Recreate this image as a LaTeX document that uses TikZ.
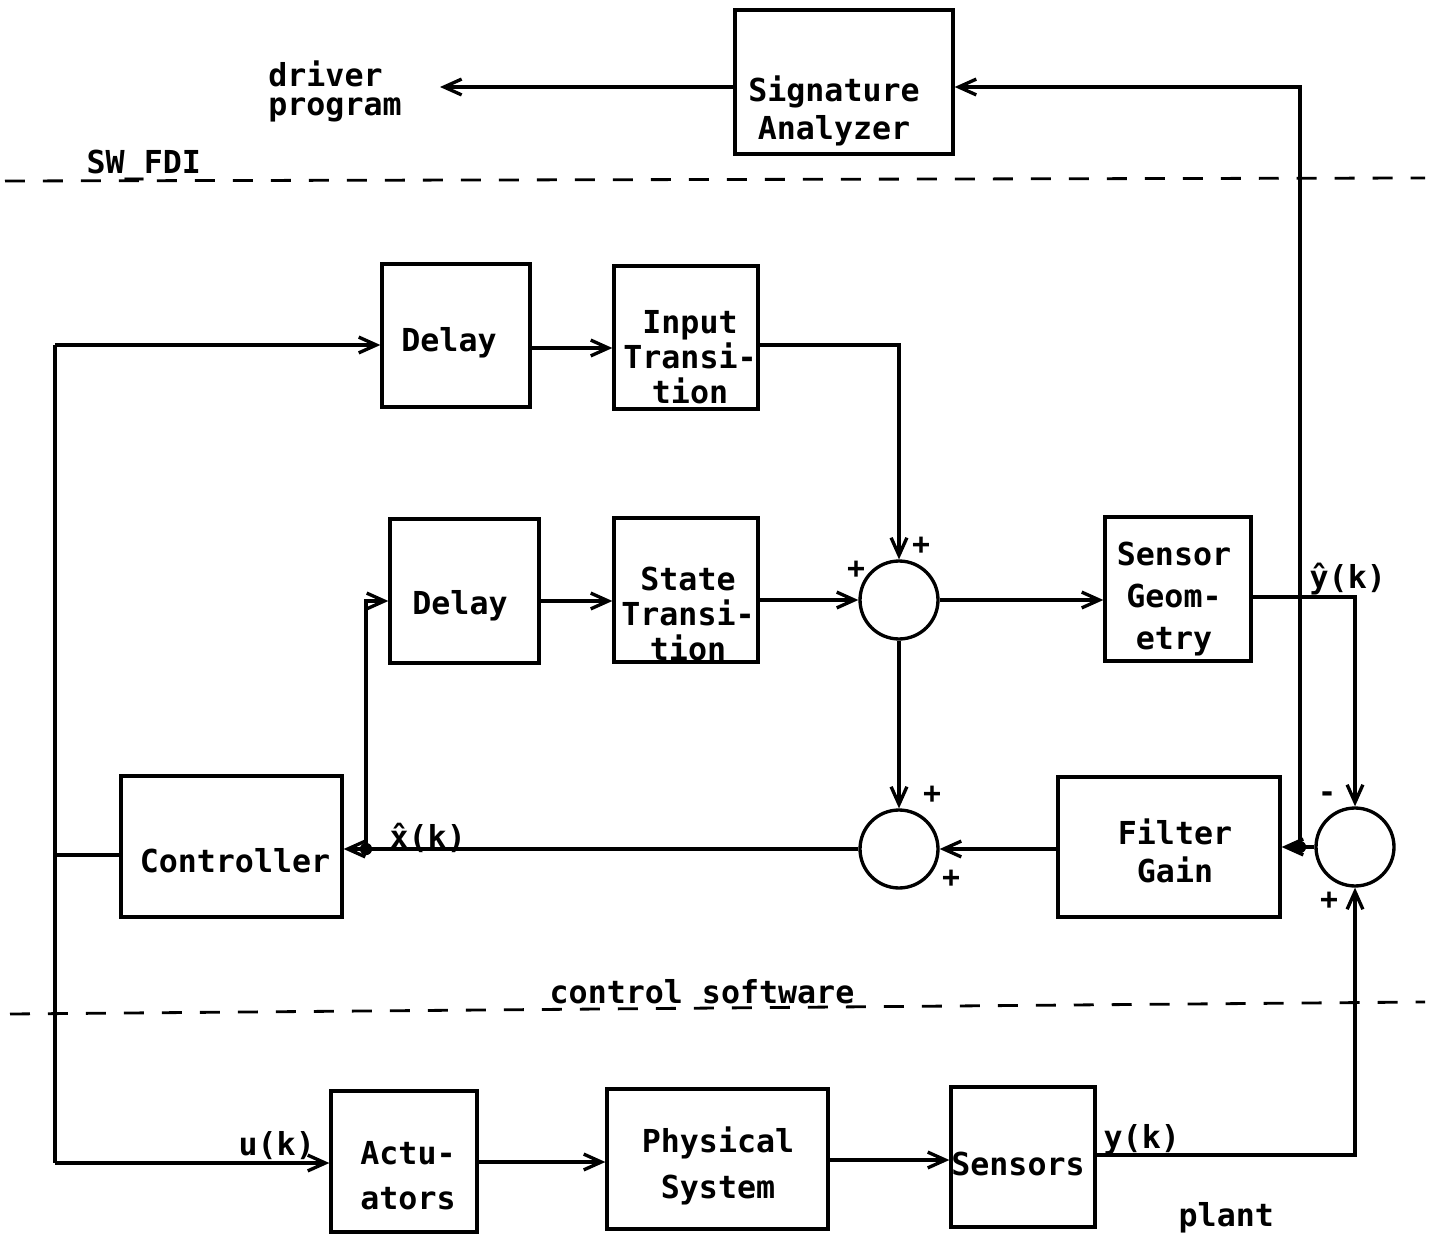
\documentclass[tikz,border=0pt]{standalone}
\usepackage{fontspec}
\newfontfamily\labfont{DejaVu Sans Mono}
\usetikzlibrary{arrows.meta}
\begin{document}
\begin{tikzpicture}[x=0.02cm,y=-0.02cm,line width=1.9pt,
  >={Straight Barb[length=10pt,width=9pt]},
  blk/.style={draw,inner sep=0pt},
  sumc/.style={draw,circle,minimum size=1.56cm,inner sep=0pt},
  lab/.style={font=\labfont\bfseries\fontsize{18}{20}\selectfont,align=center,inner sep=0pt},
  sgn/.style={font=\labfont\bfseries\fontsize{17}{18}\selectfont,inner sep=0pt},
  sep/.style={line width=1.6pt,dash pattern=on 0.4cm off 0.36cm},
  dot/.style={fill,circle,inner sep=0pt,minimum size=7pt}]
\fill[white] (0,0) rectangle (1430,1236);
\useasboundingbox (0,0) rectangle (1430,1236);

% level helpers
\coordinate (L87) at (0,87);
\coordinate (L345) at (0,345);
\coordinate (L348) at (0,348);
\coordinate (L597) at (0,597);
\coordinate (L601) at (0,601);
\coordinate (L1155) at (0,1155);
\coordinate (L1160) at (0,1160);
\coordinate (L1162) at (0,1162);

% boxes
\node[blk,minimum width=4.36cm,minimum height=2.88cm] (sig) at (844,82) {};
\node[blk,minimum width=2.96cm,minimum height=2.86cm] (d1) at (456,335.5) {};
\node[blk,minimum width=2.88cm,minimum height=2.86cm] (ita) at (686,337.5) {};
\node[blk,minimum width=2.98cm,minimum height=2.88cm] (d2) at (464.5,591) {};
\node[blk,minimum width=2.88cm,minimum height=2.88cm] (st) at (686,590) {};
\node[blk,minimum width=2.92cm,minimum height=2.88cm] (sg) at (1178,589) {};
\node[blk,minimum width=4.44cm,minimum height=2.80cm] (fg) at (1169,847) {};
\node[blk,minimum width=4.42cm,minimum height=2.82cm] (ctl) at (231.5,846.5) {};
\node[blk,minimum width=2.92cm,minimum height=2.82cm] (act) at (404,1161.5) {};
\node[blk,minimum width=4.42cm,minimum height=2.80cm] (phys) at (717.5,1159) {};
\node[blk,minimum width=2.88cm,minimum height=2.80cm] (sens) at (1023,1157) {};

% summing junctions
\node[sumc] (s1) at (899,600) {};
\node[sumc] (s2) at (899,849) {};
\node[sumc] (s3) at (1355,847) {};

% box texts
\node[lab,font=\labfont\bfseries\fontsize{18}{21.5}\selectfont] (sigT) at (834,111) {Signature\\Analyzer};
\node[lab,anchor=base] (d1T) at (449,352) {Delay};
\node[lab,font=\labfont\bfseries\fontsize{18}{19.8}\selectfont] (itaT) at (690,357) {Input\\Transi-\\tion};
\node[lab,anchor=base] (d2T) at (460,614) {Delay};
\node[lab,font=\labfont\bfseries\fontsize{18}{19.8}\selectfont] (stT) at (688,614) {State\\Transi-\\tion};
\node[lab,font=\labfont\bfseries\fontsize{18}{24}\selectfont] (sgT) at (1174,599) {Sensor\\Geom-\\etry};
\node[lab,font=\labfont\bfseries\fontsize{18}{21.5}\selectfont] (fgT) at (1175,851) {Filter\\Gain};
\node[lab,anchor=base] (ctlT) at (235,872) {Controller};
\node[lab,font=\labfont\bfseries\fontsize{18}{25.5}\selectfont] (actT) at (408,1176) {Actu-\\ators};
\node[lab,font=\labfont\bfseries\fontsize{18}{26.6}\selectfont] (physT) at (718,1166) {Physical\\System};
\node[lab,anchor=base] (sensT) at (1018,1175) {Sensors};
\node[lab,align=left,font=\labfont\bfseries\fontsize{18}{16.5}\selectfont] (drv) at (335,91) {driver\\program};
\node[lab,anchor=base west] (plant) at (1177,1226) {plant};

% signal labels
\node[lab,anchor=base west] (xh) at (388,848) {\^x(k)};
\node[lab,anchor=base west] (yh) at (1308,588) {\^y(k)};
\node[lab,anchor=base west] (yk) at (1102,1148) {y(k)};
\node[lab,anchor=base west] (uk) at (237,1155) {u(k)};

% signs
\node[sgn] (p1) at (921,546) {+};
\node[sgn] (p2) at (856,570) {+};
\node[sgn] (p3) at (932,795) {+};
\node[sgn] (p4) at (951,879) {+};
\node[sgn] (m5) at (1327,797) {-};
\node[sgn] (p6) at (1329,901) {+};

% separators
\draw[sep] (5,181) -- (1425,178);
\node[lab,anchor=base west] (swfdi) at (85,174) {SW\_FDI};
\draw[sep] (10,1014) -- (1425,1002);
\node[lab,anchor=base west] (ctlsw) at (548,1003) {control software};

% left bus
\coordinate (busT) at (55,345);
\coordinate (busM) at (55,855);
\coordinate (busB) at (55,1163);
\draw (busT) -- (busB);
\draw (ctl.west |- busM) -- (busM);
\draw[->] (busT) -- (busT -| d1.west);
\draw[->] (busB) -- (busB -| act.west);

% forward paths
\draw[->] (d1.east |- L348) -- (ita.west |- L348);
\draw[->] (ita.east |- L345) -| (s1.north);
\draw[->] (d2.east |- L601) -- (st.west |- L601);
\draw[->] (st.east |- s1.west) -- (s1.west);
\draw[->] (s1.east) -- (sg.west |- s1.east);
\draw[->] (s1.south) -- (s2.north);
\draw[->] (sg.east |- L597) -| (s3.north);
\draw[->] (sens.east |- L1155) -| (s3.south);
\draw[->] (s3.west) -- (fg.east |- s3.west);
\draw[->] (fg.west |- s2.east) -- (s2.east);
\draw[->] (s2.west) -- (ctl.east |- s2.west);
\draw[->] (act.east |- L1162) -- (phys.west |- L1162);
\draw[->] (phys.east |- L1160) -- (sens.west |- L1160);

% junctions
\coordinate (j1) at (1300,847);
\coordinate (j2) at (366,849);
\node[dot] at (j1) {};
\node[dot] at (j2) {};
\draw[->] (j1) |- (sig.east |- L87);
\draw[->] (j2) |- (d2.west |- L601);

% to driver program
\coordinate (dp) at (440,87);
\draw[->] (sig.west |- L87) -- (dp);
\end{tikzpicture}
\end{document}
